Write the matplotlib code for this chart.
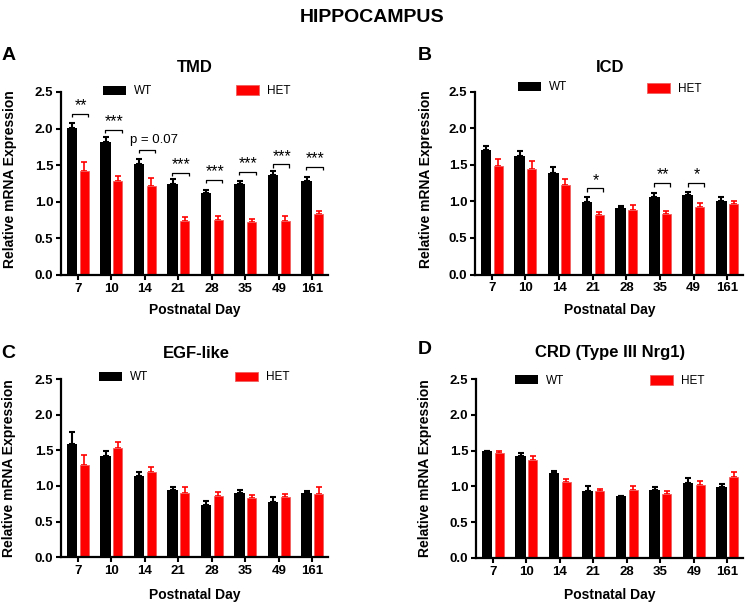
import matplotlib
matplotlib.use("Agg")
import matplotlib.pyplot as plt
import numpy as np
from matplotlib.ticker import FormatStrFormatter

plt.rcParams['font.family'] = ['Liberation Sans', 'DejaVu Sans']

days = ["7", "10", "14", "21", "28", "35", "49", "161"]

# Panel A: TMD
tmd_wt = [2.01, 1.82, 1.51, 1.24, 1.12, 1.24, 1.36, 1.29]
tmd_wt_err = [0.07, 0.06, 0.08, 0.07, 0.04, 0.05, 0.06, 0.05]
tmd_het = [1.42, 1.29, 1.21, 0.74, 0.75, 0.72, 0.74, 0.83]
tmd_het_err = [0.12, 0.06, 0.12, 0.05, 0.06, 0.05, 0.06, 0.05]
tmd_sig = [(0, "**", 2.20), (1, "***", 1.98), (2, "p = 0.07", 1.71), (3, "***", 1.40),
           (4, "***", 1.30), (5, "***", 1.41), (6, "***", 1.51), (7, "***", 1.48)]

# Panel B: ICD
icd_wt = [1.70, 1.62, 1.39, 0.99, 0.91, 1.06, 1.09, 1.01]
icd_wt_err = [0.06, 0.07, 0.08, 0.07, 0.03, 0.05, 0.04, 0.05]
icd_het = [1.49, 1.45, 1.23, 0.81, 0.88, 0.83, 0.93, 0.97]
icd_het_err = [0.09, 0.10, 0.08, 0.04, 0.07, 0.04, 0.05, 0.04]
icd_sig = [(3, "*", 1.18), (5, "**", 1.25), (6, "*", 1.25)]

# Panel C: EGF-like
egf_wt = [1.59, 1.42, 1.14, 0.94, 0.74, 0.90, 0.78, 0.90]
egf_wt_err = [0.16, 0.07, 0.06, 0.05, 0.05, 0.05, 0.06, 0.03]
egf_het = [1.30, 1.53, 1.19, 0.90, 0.86, 0.83, 0.84, 0.89]
egf_het_err = [0.14, 0.08, 0.07, 0.09, 0.06, 0.05, 0.05, 0.10]

# Panel D: CRD (Type III Nrg1)
crd_wt = [1.49, 1.43, 1.19, 0.94, 0.86, 0.95, 1.05, 0.99]
crd_wt_err = [0.01, 0.04, 0.03, 0.06, 0.01, 0.04, 0.07, 0.04]
crd_het = [1.46, 1.37, 1.06, 0.93, 0.95, 0.90, 1.02, 1.13]
crd_het_err = [0.04, 0.05, 0.04, 0.04, 0.06, 0.04, 0.06, 0.07]

W, H = 745, 604
fig = plt.figure(figsize=(W / 100, H / 100), dpi=100)


def fx(px):
    return px / W


def fy(py):
    return 1 - py / H


def add_axes(left, right, top, bottom):
    return fig.add_axes([fx(left), fy(bottom), fx(right - left), (bottom - top) / H])


RED = "#ff0000"


def panel(ax, wt, wt_err, het, het_err, sigs, leg_y):
    x = np.arange(len(days))
    b1 = ax.bar(x - 0.17, wt, width=0.32, color="black", zorder=2)
    ax.errorbar(x - 0.17, wt, yerr=[np.zeros(len(wt)), wt_err], fmt="none",
                ecolor="black", elinewidth=1.5, capsize=2.5, capthick=1.5, zorder=1)
    b2 = ax.bar(x + 0.19, het, width=0.27, color=RED, edgecolor="#f06060",
                linewidth=0.6, zorder=2)
    ax.errorbar(x + 0.19, het, yerr=[np.zeros(len(het)), het_err], fmt="none",
                ecolor=RED, elinewidth=1.2, capsize=2.5, capthick=1.2, zorder=1)
    ax.set_xlim(-0.5, 7.47)
    ax.set_ylim(0, 2.5)
    ax.set_yticks([0, 0.5, 1.0, 1.5, 2.0, 2.5])
    ax.yaxis.set_major_formatter(FormatStrFormatter("%.1f"))
    ax.set_xticks(x)
    ax.set_xticklabels(days)
    for s in ["top", "right"]:
        ax.spines[s].set_visible(False)
    for s in ["left", "bottom"]:
        ax.spines[s].set_linewidth(1.6)
    ax.tick_params(axis="both", width=1.5, length=3.5, pad=2, labelsize=9.5)
    for lab in ax.get_xticklabels() + ax.get_yticklabels():
        lab.set_fontweight("bold")
    for i, txt, yb in sigs:
        x0, x1 = i - 0.18, i + 0.31
        d = 0.045
        ax.plot([x0, x0, x1, x1], [yb - d, yb, yb, yb - d], color="black",
                lw=0.9, clip_on=False, solid_capstyle="butt")
        if txt.startswith("p"):
            ax.text((x0 + x1) / 2 + 0.2, yb + 0.09, txt, ha="center", va="baseline",
                    fontsize=9.5, clip_on=False)
        else:
            ax.text((x0 + x1) / 2 + 0.03, yb + 0.05, txt, ha="center", va="baseline",
                    fontsize=11.5, clip_on=False)
    lk = dict(frameon=False, fontsize=8.5, handlelength=1.95, handleheight=0.85,
              handletextpad=0.68, borderpad=0, borderaxespad=0, loc="center left")
    l1 = ax.legend([b1], ["WT"], bbox_to_anchor=(leg_y[0], leg_y[2]), **lk)
    ax.add_artist(l1)
    ax.legend([b2], ["HET"], bbox_to_anchor=(leg_y[1], leg_y[3]), **lk)


axA = add_axes(61, 328, 92, 275)
axB = add_axes(475, 743, 92, 274.5)
axC = add_axes(61, 328, 379, 557.3)
axD = add_axes(476, 743, 379, 558)

panel(axA, tmd_wt, tmd_wt_err, tmd_het, tmd_het_err, tmd_sig,
      ((103 - 61) / 267, (236 - 61) / 267, 1 + (92 - 91.5) / 183, 1 + (92 - 91) / 183))
panel(axB, icd_wt, icd_wt_err, icd_het, icd_het_err, icd_sig,
      ((518 - 475) / 268, (647 - 475) / 268, 1 + (92 - 87.5) / 182, 1 + (92 - 89) / 182))
panel(axC, egf_wt, egf_wt_err, egf_het, egf_het_err, [],
      ((99 - 61) / 267, (235 - 61) / 267, 1 + (379 - 377.5) / 178, 1 + (379 - 377.5) / 178))
panel(axD, crd_wt, crd_wt_err, crd_het, crd_het_err, [],
      ((515 - 476) / 267, (650 - 476) / 267, 1 + (379 - 380.5) / 179, 1 + (379 - 381) / 179))

fig.text(fx(372), fy(18), "HIPPOCAMPUS", ha="center", va="center",
         fontsize=14, fontweight="bold")

titles = [("TMD", 195, 67), ("ICD", 610, 67.5), ("EGF-like", 196, 353),
          ("CRD (Type III Nrg1)", 610, 353)]
for t, px, py in titles:
    fig.text(fx(px), fy(py), t, ha="center", va="center", fontsize=12, fontweight="bold")

letters = [("A", 9, 55.5), ("B", 424.5, 56), ("C", 8.5, 353), ("D", 425, 350)]
for t, px, py in letters:
    fig.text(fx(px), fy(py), t, ha="center", va="center", fontsize=14, fontweight="bold")

ylabs = [(10, 179), (426, 179), (9, 468), (425, 468)]
for px, py in ylabs:
    fig.text(fx(px), fy(py), "Relative mRNA Expression", rotation=90, ha="center",
             va="center", fontsize=10, fontweight="bold")

xlabs = [(195, 310), (610, 310), (195, 595), (610, 595)]
for px, py in xlabs:
    fig.text(fx(px), fy(py), "Postnatal Day", ha="center", va="center",
             fontsize=10, fontweight="bold")

fig.savefig("out.png", dpi=100)
